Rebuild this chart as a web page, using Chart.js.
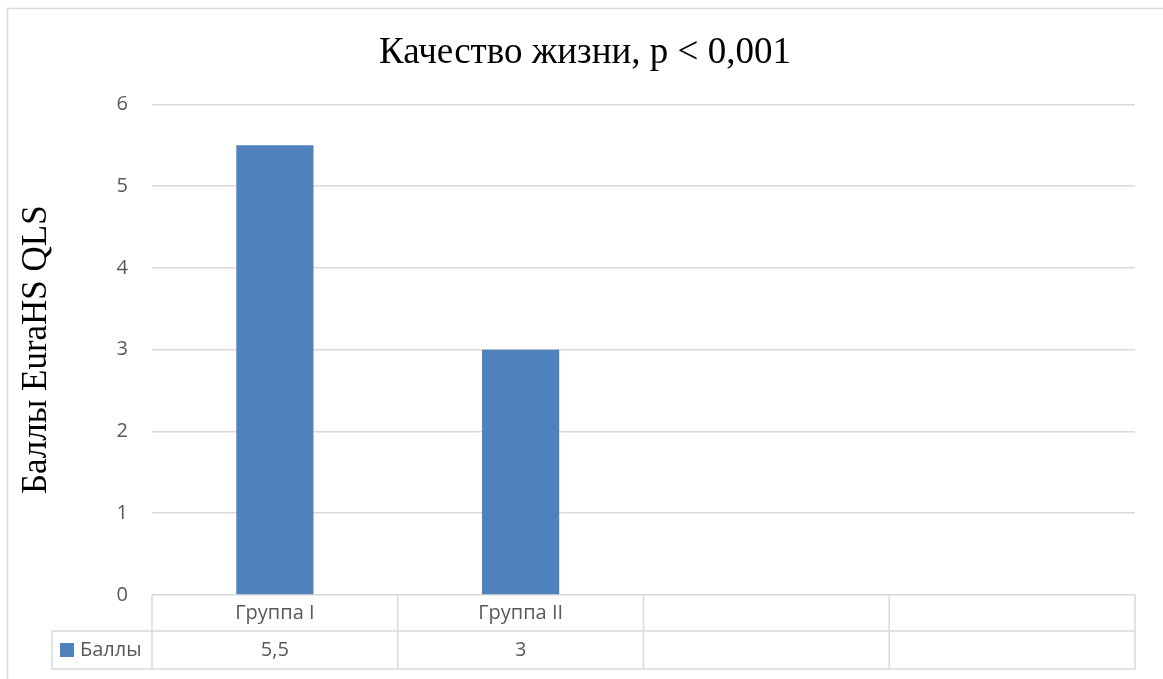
<!DOCTYPE html>
<html lang="ru">
<head>
<meta charset="utf-8">
<title>Качество жизни</title>
<script src="https://cdn.jsdelivr.net/npm/chart.js@4/dist/chart.umd.min.js"></script>
<style>
  html, body { margin: 0; padding: 0; background: #ffffff; }
  #wrap { width: 1163px; height: 679px; position: relative; }
  canvas { display: block; }
</style>
</head>
<body>
<div id="wrap"><canvas id="chart" width="1163" height="679"></canvas></div>
<script>
// Categories (the last two columns of the data table are empty)
const categories = ['Группа I', 'Группа II', '', ''];
// Series "Баллы" — EuraHS QLS scores
const seriesName = 'Баллы';
const scores = [5.5, 3, null, null];
// Text shown in the data table cells
const tableValues = ['5,5', '3', '', ''];
// Y axis tick range
const yTicks = [0, 1, 2, 3, 4, 5, 6];

const chartTitle = 'Качество жизни, p < 0,001';
const yTitle = 'Баллы EuraHS QLS';

const BAR_COLOR = '#4f81bd';
const GRID_COLOR = '#d9d9d9';
const TEXT_GRAY = '#595959';
const LABEL_FONT = '20px "Open Sans", sans-serif';

// Outer frame of the chart object
const framePlugin = {
  id: 'frame',
  beforeDraw(chart) {
    const ctx = chart.ctx;
    ctx.save();
    ctx.fillStyle = '#ffffff';
    ctx.fillRect(0, 0, chart.width, chart.height);
    ctx.strokeStyle = GRID_COLOR;
    ctx.lineWidth = 1.5;
    ctx.beginPath();
    ctx.moveTo(7.5, chart.height + 5);
    ctx.lineTo(7.5, 8.5);
    ctx.lineTo(chart.width + 5, 8.5);
    ctx.stroke();
    ctx.restore();
  }
};

// Data table drawn under the plot area, aligned with the category scale
const dataTablePlugin = {
  id: 'dataTable',
  afterDraw(chart) {
    const ctx = chart.ctx;
    const x = chart.scales.x;
    const area = chart.chartArea;
    const n = categories.length;
    const half = (x.getPixelForValue(1) - x.getPixelForValue(0)) / 2;
    const bounds = [];
    for (let i = 0; i < n; i++) bounds.push(x.getPixelForValue(i) - half);
    bounds.push(x.getPixelForValue(n - 1) + half);

    const rowTop = area.bottom;
    const rowMid = rowTop + 36;
    const rowBot = rowTop + 74;
    const legendLeft = 52;

    ctx.save();
    ctx.strokeStyle = GRID_COLOR;
    ctx.lineWidth = 1.5;
    ctx.beginPath();
    bounds.forEach(b => {
      ctx.moveTo(b, rowTop);
      ctx.lineTo(b, rowBot);
    });
    ctx.moveTo(legendLeft, rowMid);
    ctx.lineTo(bounds[n], rowMid);
    ctx.moveTo(legendLeft, rowBot);
    ctx.lineTo(bounds[n], rowBot);
    ctx.moveTo(legendLeft, rowMid);
    ctx.lineTo(legendLeft, rowBot);
    ctx.stroke();

    ctx.fillStyle = TEXT_GRAY;
    ctx.font = LABEL_FONT;
    ctx.textAlign = 'center';
    ctx.textBaseline = 'middle';
    for (let i = 0; i < n; i++) {
      const cx = x.getPixelForValue(i);
      ctx.fillText(categories[i], cx, (rowTop + rowMid) / 2);
      ctx.fillText(tableValues[i], cx, (rowMid + rowBot) / 2);
    }

    // Legend key for the series row
    const ds = chart.data.datasets[0];
    const ky = (rowMid + rowBot) / 2;
    ctx.fillStyle = ds.backgroundColor;
    ctx.fillRect(60, ky - 7, 14, 14);
    ctx.fillStyle = TEXT_GRAY;
    ctx.textAlign = 'left';
    ctx.fillText(ds.label, 80, ky);
    ctx.restore();
  }
};

new Chart(document.getElementById('chart'), {
  type: 'bar',
  data: {
    labels: categories,
    datasets: [{
      label: seriesName,
      data: scores,
      backgroundColor: BAR_COLOR,
      borderWidth: 0,
      barPercentage: 0.314,
      categoryPercentage: 1
    }]
  },
  options: {
    responsive: false,
    devicePixelRatio: 1,
    animation: false,
    layout: { padding: { top: 0, left: 7, right: 0, bottom: 84 } },
    plugins: {
      legend: { display: false },
      tooltip: { enabled: false },
      title: {
        display: true,
        text: chartTitle,
        color: '#000000',
        font: { family: '"Liberation Serif", "Times New Roman", serif', size: 37, weight: 'normal', lineHeight: 1.2 },
        padding: { top: 31, bottom: 29 }
      }
    },
    scales: {
      x: {
        display: false
      },
      y: {
        min: yTicks[0],
        max: yTicks[yTicks.length - 1],
        afterBuildTicks(scale) {
          scale.ticks = yTicks.map(v => ({ value: v }));
        },
        afterFit(scale) { scale.width = 145; },
        border: { display: false },
        grid: { color: GRID_COLOR, lineWidth: 1.5, drawTicks: false },
        ticks: {
          color: TEXT_GRAY,
          font: { family: '"Open Sans", sans-serif', size: 20 },
          padding: 24
        },
        title: {
          display: true,
          text: yTitle,
          color: '#000000',
          font: { family: '"Liberation Serif", "Times New Roman", serif', size: 35, weight: 'normal', lineHeight: 1.2 },
          padding: { top: 9, bottom: 0 }
        }
      },
      // Empty right-hand margin between the plot area and the frame edge
      yRight: {
        position: 'right',
        display: true,
        min: 0,
        max: 6,
        afterFit(scale) { scale.width = 28; },
        border: { display: false },
        grid: { display: false, drawTicks: false },
        ticks: { display: false }
      }
    }
  },
  plugins: [framePlugin, dataTablePlugin]
});
</script>
</body>
</html>
